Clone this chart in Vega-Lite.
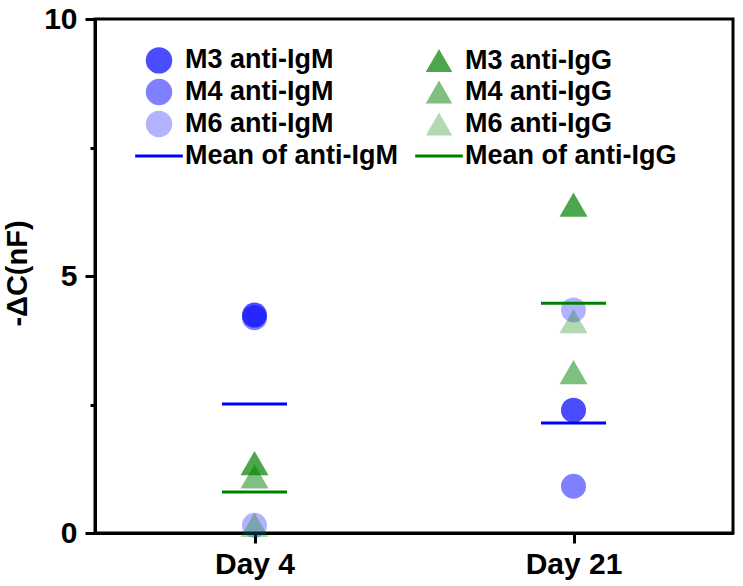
{
  "$schema": "https://vega.github.io/schema/vega-lite/v6.json",
  "width": 638,
  "height": 514,
  "autosize": "none",
  "padding": {"left": 95, "top": 19, "right": 10, "bottom": 53},
  "background": "white",
  "config": {
    "view": {"stroke": "black", "strokeWidth": 3},
    "font": "Liberation Sans",
    "axis": {
      "labelFont": "Liberation Sans",
      "labelFontWeight": "bold",
      "labelFontSize": 30,
      "labelColor": "black",
      "titleFont": "Liberation Sans",
      "titleFontWeight": "bold",
      "titleFontSize": 29,
      "titleColor": "black",
      "domainColor": "black",
      "domainWidth": 3,
      "tickColor": "black",
      "tickWidth": 3,
      "grid": false
    }
  },
  "data": {
    "values": [
      {"day": "Day 4", "group": "M3 anti-IgM", "value": 4.24},
      {"day": "Day 4", "group": "M4 anti-IgM", "value": 4.19},
      {"day": "Day 4", "group": "M6 anti-IgM", "value": 0.15},
      {"day": "Day 4", "group": "M3 anti-IgG", "value": 1.36},
      {"day": "Day 4", "group": "M4 anti-IgG", "value": 1.1},
      {"day": "Day 4", "group": "M6 anti-IgG", "value": 0.16},
      {"day": "Day 4", "group": "Mean of anti-IgM", "value": 2.51},
      {"day": "Day 4", "group": "Mean of anti-IgG", "value": 0.8},
      {"day": "Day 21", "group": "M3 anti-IgM", "value": 2.39},
      {"day": "Day 21", "group": "M4 anti-IgM", "value": 0.91},
      {"day": "Day 21", "group": "M6 anti-IgM", "value": 4.34},
      {"day": "Day 21", "group": "M3 anti-IgG", "value": 6.39},
      {"day": "Day 21", "group": "M4 anti-IgG", "value": 3.13},
      {"day": "Day 21", "group": "M6 anti-IgG", "value": 4.12},
      {"day": "Day 21", "group": "Mean of anti-IgM", "value": 2.14},
      {"day": "Day 21", "group": "Mean of anti-IgG", "value": 4.47}
    ]
  },
  "encoding": {
    "x": {
      "field": "day",
      "type": "ordinal",
      "scale": {"type": "point", "domain": ["Day 4", "Day 21"], "padding": 0.5},
      "axis": {"title": null, "labelAngle": 0, "tickSize": 10, "labelPadding": 6}
    },
    "y": {
      "field": "value",
      "type": "quantitative",
      "scale": {"domain": [0, 10], "nice": false, "zero": false},
      "axis": {
        "title": "-ΔC(nF)",
        "values": [0, 2.5, 5, 7.5, 10],
        "labelExpr": "datum.value % 5 === 0 ? datum.label : ''",
        "tickSize": {"condition": {"test": "datum.value % 5 === 0", "value": 10}, "value": 5},
        "labelPadding": 8,
        "titleX": -69,
        "titleY": 254,
        "titleAlign": "center",
        "titleBaseline": "alphabetic",
        "titleAngle": -90
      }
    },
    "color": {
      "field": "group",
      "type": "nominal",
      "scale": {
        "domain": ["M3 anti-IgM", "M3 anti-IgG", "M4 anti-IgM", "M4 anti-IgG", "M6 anti-IgM", "M6 anti-IgG", "Mean of anti-IgM", "Mean of anti-IgG"],
        "range": ["rgba(0,0,255,0.7)", "rgba(0,128,0,0.7)", "rgba(0,0,255,0.5)", "rgba(0,128,0,0.5)", "rgba(0,0,255,0.3)", "rgba(0,128,0,0.3)", "rgb(0,0,255)", "rgb(0,128,0)"]
      },
      "legend": {
        "title": null,
        "orient": "none",
        "legendX": 50,
        "legendY": 27,
        "columns": 2,
        "direction": "horizontal",
        "columnPadding": 17,
        "rowPadding": 4,
        "labelFont": "Liberation Sans",
        "labelFontWeight": "bold",
        "labelFontSize": 27,
        "labelColor": "black",
        "labelOffset": 12,
        "labelLimit": 400,
        "symbolSize": 700
      }
    },
    "shape": {
      "field": "group",
      "type": "nominal",
      "scale": {
        "domain": ["M3 anti-IgM", "M3 anti-IgG", "M4 anti-IgM", "M4 anti-IgG", "M6 anti-IgM", "M6 anti-IgG", "Mean of anti-IgM", "Mean of anti-IgG"],
        "range": ["circle", "triangle-up", "circle", "triangle-up", "circle", "triangle-up", "M-1.8,-0.11H1.8V0.11H-1.8Z", "M-1.8,-0.11H1.8V0.11H-1.8Z"]
      },
      "legend": null
    }
  },
  "layer": [
    {
      "transform": [{"filter": "indexof(datum.group, 'Mean') < 0 && indexof(datum.group, 'IgM') >= 0"}],
      "mark": {"type": "point", "filled": true, "opacity": 1, "size": 625, "strokeWidth": 0}
    },
    {
      "transform": [{"filter": "indexof(datum.group, 'Mean') < 0 && indexof(datum.group, 'IgG') >= 0"}],
      "mark": {"type": "point", "filled": true, "opacity": 1, "size": 784, "strokeWidth": 0}
    },
    {
      "transform": [{"filter": "indexof(datum.group, 'Mean') >= 0"}],
      "mark": {"type": "tick", "opacity": 1, "size": 65, "thickness": 3, "orient": "horizontal"}
    }
  ]
}
